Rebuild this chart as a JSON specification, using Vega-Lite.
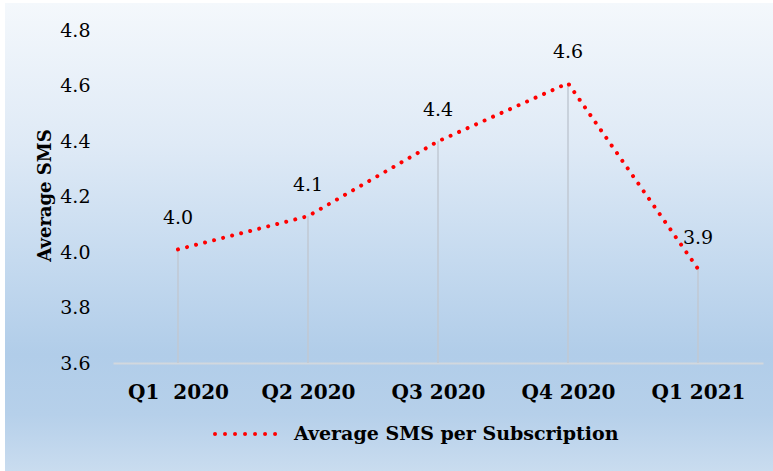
{
  "$schema": "https://vega.github.io/schema/vega-lite/v6.json",
  "width": 768,
  "height": 468,
  "autosize": {"type": "none"},
  "padding": {"left": 5, "top": 3, "right": 0, "bottom": 0},
  "background": "#ffffff",
  "config": {
    "font": "DejaVu Serif",
    "view": {
      "stroke": null,
      "fill": {
        "gradient": "linear",
        "x1": 0, "y1": 0, "x2": 0, "y2": 1,
        "stops": [
          {"offset": 0, "color": "#f4f8fc"},
          {"offset": 0.3, "color": "#dfeaf6"},
          {"offset": 0.55, "color": "#c5daef"},
          {"offset": 0.75, "color": "#b1cde9"},
          {"offset": 0.88, "color": "#b6d0ea"},
          {"offset": 1, "color": "#c9dcef"}
        ]
      }
    }
  },
  "data": {
    "values": [
      {"quarter": "Q1\u00a0 2020", "value": 4.01, "series": "Average SMS per Subscription"},
      {"quarter": "Q2 2020", "value": 4.13, "series": "Average SMS per Subscription"},
      {"quarter": "Q3 2020", "value": 4.40, "series": "Average SMS per Subscription"},
      {"quarter": "Q4 2020", "value": 4.61, "series": "Average SMS per Subscription"},
      {"quarter": "Q1 2021", "value": 3.94, "series": "Average SMS per Subscription"}
    ]
  },
  "encoding": {
    "x": {
      "field": "quarter",
      "type": "ordinal",
      "sort": null,
      "scale": {"type": "point", "range": [108, 758], "padding": 0.5},
      "axis": {
        "title": null,
        "offset": -108,
        "domain": true,
        "domainColor": "#d2d8de",
        "domainWidth": 2,
        "ticks": false,
        "tickSize": 0,
        "grid": false,
        "labelPadding": 29,
        "labelBaseline": "middle",
        "labelAngle": 0,
        "labelFont": "DejaVu Serif",
        "labelFontSize": 20,
        "labelFontWeight": "bold",
        "labelColor": "#000000"
      }
    },
    "y": {
      "field": "value",
      "type": "quantitative",
      "scale": {"domain": [3.6, 4.8], "range": [360, 27.5], "zero": false, "nice": false},
      "axis": {
        "title": "Average SMS",
        "offset": -108,
        "domain": false,
        "ticks": false,
        "tickSize": 0,
        "grid": false,
        "values": [3.6, 3.8, 4.0, 4.2, 4.4, 4.6, 4.8],
        "format": ".1f",
        "labelPadding": 23,
        "labelFont": "DejaVu Serif",
        "labelFontSize": 19,
        "labelColor": "#000000",
        "titleFont": "DejaVu Serif",
        "titleFontSize": 18,
        "titleFontWeight": "bold",
        "titleColor": "#000000",
        "titleAngle": -90,
        "titleAlign": "center",
        "titleBaseline": "alphabetic",
        "titleX": -63,
        "titleY": 192
      }
    }
  },
  "layer": [
    {
      "mark": {"type": "rule", "color": "#c0c9d3", "strokeWidth": 1.5},
      "encoding": {"y2": {"datum": 3.6}}
    },
    {
      "mark": {"type": "line", "strokeDash": [0.01, 9.3], "strokeCap": "round", "strokeWidth": 4},
      "encoding": {
        "color": {
          "field": "series",
          "type": "nominal",
          "scale": {"domain": ["Average SMS per Subscription"], "range": ["#ff0000"]},
          "legend": {
            "orient": "none",
            "legendX": 208,
            "legendY": 398.5,
            "title": null,
            "padding": 0,
            "symbolType": "stroke",
            "symbolSize": 3721,
            "symbolStrokeWidth": 4,
            "symbolDash": [0.01, 10],
            "labelFont": "DejaVu Serif",
            "labelFontSize": 19,
            "labelFontWeight": "bold",
            "labelColor": "#000000",
            "labelOffset": 16,
            "labelLimit": 600,
            "encode": {"symbols": {"update": {"strokeCap": {"value": "round"}}}}
          }
        }
      }
    },
    {
      "mark": {"type": "text", "baseline": "middle", "dy": -31, "fontSize": 19, "font": "DejaVu Serif", "color": "#000000"},
      "encoding": {"text": {"field": "value", "type": "quantitative", "format": ".1f"}}
    }
  ]
}
